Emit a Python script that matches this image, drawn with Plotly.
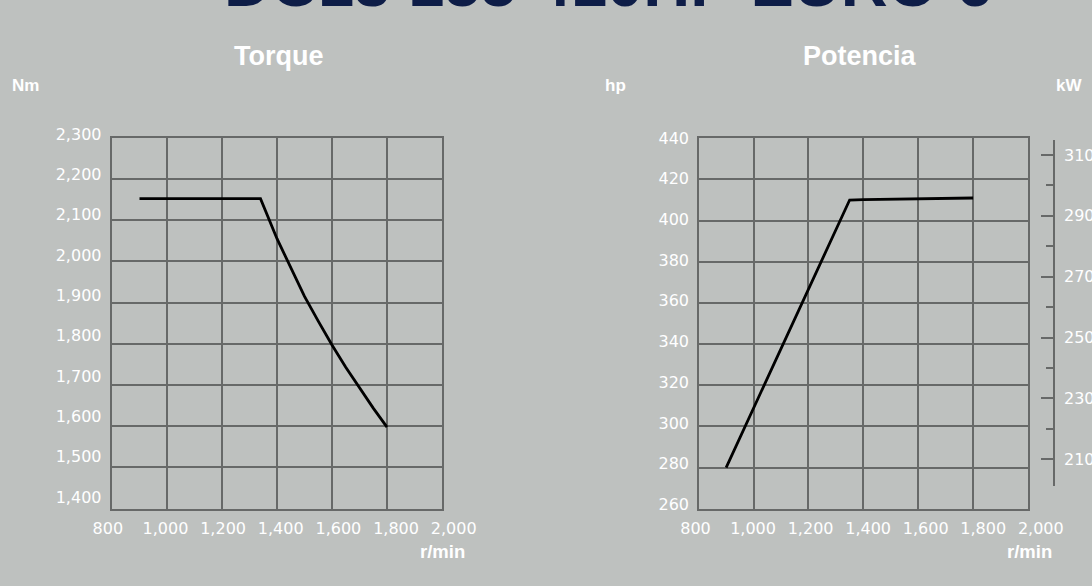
import plotly.graph_objects as go

# ---------------- data ----------------
chart_title = "DC13 155 410HP EURO 6"
torque_title = "Torque"
power_title = "Potencia"

rpm_ticks = [800, 1000, 1200, 1400, 1600, 1800, 2000]
torque_ticks = [1400, 1500, 1600, 1700, 1800, 1900, 2000, 2100, 2200, 2300]
hp_ticks = [260, 280, 300, 320, 340, 360, 380, 400, 420, 440]
kw_ticks = [210, 230, 250, 270, 290, 310]

torque_rpm = [900, 1000, 1100, 1200, 1300, 1340, 1400, 1450, 1500, 1550, 1600,
              1650, 1700, 1750, 1800]
torque_nm = [2152, 2152, 2152, 2152, 2152, 2152, 2055, 1985, 1915, 1855, 1797,
             1743, 1692, 1644, 1598]

power_rpm = [900, 1000, 1100, 1200, 1300, 1350, 1400, 1500, 1600, 1700, 1800]
power_hp = [280, 309, 338, 367, 396, 410, 410.2, 410.4, 410.6, 410.8, 411]

# ---------------- style ----------------
W, H = 1092, 586
BG = "#bec1bf"
GRID = "#676968"
WHITE = "#ffffff"
NAVY = "#0e1d47"
TICKFONT = dict(family="DejaVu Sans", size=16, color=WHITE)
UNITFONT = dict(family="Liberation Sans", size=17, color=WHITE, weight="bold")
RPMFONT = dict(family="Liberation Sans", size=18.5, color=WHITE, weight="bold")


def px_x(p):
    return p / W


def px_y(p):
    return 1 - p / H


fig = go.Figure()

fig.add_trace(go.Scatter(x=torque_rpm, y=torque_nm, mode="lines",
                         line=dict(color="black", width=2.8),
                         xaxis="x", yaxis="y", showlegend=False, hoverinfo="skip"))
fig.add_trace(go.Scatter(x=power_rpm, y=power_hp, mode="lines",
                         line=dict(color="black", width=2.8),
                         xaxis="x2", yaxis="y2", showlegend=False, hoverinfo="skip"))
# carriers for label-only axes
fig.add_trace(go.Scatter(x=[None], y=[None], xaxis="x3", yaxis="y3",
                         showlegend=False, hoverinfo="skip"))
fig.add_trace(go.Scatter(x=[None], y=[None], xaxis="x4", yaxis="y4",
                         showlegend=False, hoverinfo="skip"))
fig.add_trace(go.Scatter(x=[None], y=[None], xaxis="x4", yaxis="y5",
                         showlegend=False, hoverinfo="skip"))

grid_common = dict(showgrid=True, gridcolor=GRID, gridwidth=1.6,
                   showline=True, linecolor=GRID, linewidth=1.6, mirror=True,
                   showticklabels=False, ticks="", zeroline=False, fixedrange=True,
                   automargin=False)
label_common = dict(showgrid=False, showline=False, zeroline=False, ticks="",
                    tickfont=TICKFONT, tickformat=",", fixedrange=True,
                    automargin=False)

layout = dict(
    template="none",
    width=W, height=H, autosize=False,
    margin=dict(l=0, r=0, t=0, b=0, pad=0, autoexpand=False),
    paper_bgcolor=BG, plot_bgcolor="rgba(0,0,0,0)",
    showlegend=False,
    # torque grid
    xaxis=dict(domain=[px_x(112), px_x(442)], range=[800, 2000], tickvals=rpm_ticks,
               anchor="y", **grid_common),
    yaxis=dict(domain=[px_y(508.7), px_y(137.7)], range=[1400, 2300], tickvals=torque_ticks,
               anchor="x", **grid_common),
    # power grid
    xaxis2=dict(domain=[px_x(698.7), px_x(1028)], range=[800, 2000], tickvals=rpm_ticks,
                anchor="y2", **grid_common),
    yaxis2=dict(domain=[px_y(508.7), px_y(138.3)], range=[260, 440], tickvals=hp_ticks,
                anchor="x2", **grid_common),
    # torque labels
    xaxis3=dict(domain=[px_x(107.8), px_x(453.7)], range=[800, 2000], tickvals=rpm_ticks,
                anchor="free", position=px_y(517), **label_common),
    yaxis3=dict(domain=[px_y(497), px_y(134)], range=[1400, 2300], tickvals=torque_ticks,
                anchor="free", position=px_x(101.5), **label_common),
    # power labels
    xaxis4=dict(domain=[px_x(695.5), px_x(1040.8)], range=[800, 2000], tickvals=rpm_ticks,
                anchor="free", position=px_y(517), **label_common),
    yaxis4=dict(domain=[px_y(504.3), px_y(138)], range=[260, 440], tickvals=hp_ticks,
                anchor="free", position=px_x(689), **label_common),
    # kW axis
    yaxis5=dict(domain=[px_y(485.7), px_y(140)], range=[201.3, 314.9], tickvals=kw_ticks,
                anchor="free", position=px_x(1054), side="right", automargin=False,
                showgrid=False, zeroline=False, showline=True, linecolor=GRID, linewidth=1.6,
                ticks="inside", ticklen=12, tickwidth=1.6, tickcolor=GRID,
                minor=dict(dtick=10, tick0=200, ticks="inside", ticklen=7,
                           tickwidth=1.6, tickcolor=GRID, showgrid=False),
                tickfont=TICKFONT, ticklabelstandoff=6, fixedrange=True),
)
fig.update_layout(**layout)

annotations = [
    dict(text=chart_title, x=px_x(608), y=1 + 16.5 / H, xref="paper", yref="paper",
         xanchor="center", yanchor="middle", showarrow=False,
         font=dict(family="Liberation Sans", size=65, color=NAVY, weight="bold")),
    dict(text=torque_title, x=px_x(279), y=px_y(55.5), xref="paper", yref="paper",
         xanchor="center", yanchor="middle", showarrow=False,
         font=dict(family="Liberation Sans", size=27, color=WHITE, weight="bold")),
    dict(text=power_title, x=px_x(859.5), y=px_y(55.5), xref="paper", yref="paper",
         xanchor="center", yanchor="middle", showarrow=False,
         font=dict(family="Liberation Sans", size=27, color=WHITE, weight="bold")),
    dict(text="Nm", x=px_x(10), y=px_y(86), xref="paper", yref="paper",
         xanchor="left", yanchor="middle", showarrow=False, font=UNITFONT),
    dict(text="hp", x=px_x(603), y=px_y(86), xref="paper", yref="paper",
         xanchor="left", yanchor="middle", showarrow=False, font=UNITFONT),
    dict(text="kW", x=px_x(1054), y=px_y(86), xref="paper", yref="paper",
         xanchor="left", yanchor="middle", showarrow=False, font=UNITFONT),
    dict(text="r/min", x=px_x(442.7), y=px_y(551), xref="paper", yref="paper",
         xanchor="center", yanchor="middle", showarrow=False, font=RPMFONT),
    dict(text="r/min", x=px_x(1029.3), y=px_y(551), xref="paper", yref="paper",
         xanchor="center", yanchor="middle", showarrow=False, font=RPMFONT),
]
fig.update_layout(annotations=annotations)

fig.write_html("out.html", config=dict(displayModeBar=False),
               post_script="document.body.style.margin='0';document.body.style.overflow='hidden';")
